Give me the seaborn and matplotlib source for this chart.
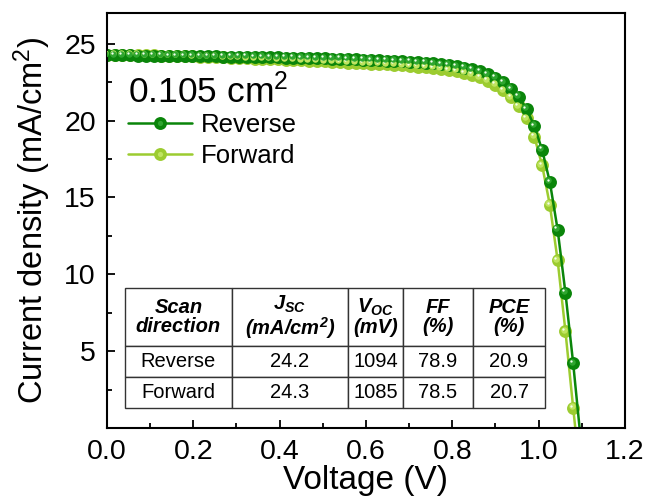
import pandas as pd
import matplotlib
matplotlib.use("Agg")
import matplotlib.pyplot as plt
import matplotlib.transforms as mtransforms
from matplotlib.lines import Line2D
from matplotlib.legend_handler import HandlerTuple
from matplotlib.ticker import MultipleLocator, FixedLocator
import seaborn as sns

# ---- J-V sweep data ----
voltage = [0.000, 0.018, 0.036, 0.054, 0.072, 0.090, 0.108, 0.126, 0.144, 0.162,
           0.180, 0.198, 0.216, 0.234, 0.252, 0.270, 0.288, 0.306, 0.324, 0.342,
           0.360, 0.378, 0.396, 0.414, 0.432, 0.450, 0.468, 0.486, 0.504, 0.522,
           0.540, 0.558, 0.576, 0.594, 0.612, 0.630, 0.648, 0.666, 0.684, 0.702,
           0.720, 0.738, 0.756, 0.774, 0.792, 0.810, 0.828, 0.846, 0.864, 0.882,
           0.900, 0.918, 0.936, 0.954, 0.972, 0.990, 1.008, 1.026, 1.044, 1.062,
           1.080, 1.098]

j_reverse = [24.25, 24.25, 24.24, 24.24, 24.23, 24.23, 24.22, 24.22, 24.21, 24.21,
             24.20, 24.20, 24.19, 24.18, 24.18, 24.17, 24.16, 24.15, 24.15, 24.14,
             24.13, 24.12, 24.11, 24.10, 24.09, 24.08, 24.07, 24.06, 24.05, 24.03,
             24.02, 24.00, 23.99, 23.97, 23.95, 23.93, 23.91, 23.88, 23.86, 23.83,
             23.80, 23.76, 23.72, 23.67, 23.61, 23.54, 23.45, 23.34, 23.20, 23.02,
             22.79, 22.48, 22.06, 21.55, 20.75, 19.65, 18.10, 16.00, 12.90, 8.80,
             4.20, -0.90]

j_forward = [24.30, 24.29, 24.28, 24.27, 24.26, 24.25, 24.24, 24.23, 24.22, 24.21,
             24.20, 24.19, 24.17, 24.15, 24.13, 24.11, 24.09, 24.07, 24.06, 24.04,
             24.02, 24.00, 23.98, 23.96, 23.94, 23.92, 23.90, 23.87, 23.85, 23.83,
             23.81, 23.78, 23.76, 23.73, 23.71, 23.68, 23.66, 23.63, 23.60, 23.56,
             23.52, 23.48, 23.43, 23.37, 23.30, 23.22, 23.10, 22.98, 22.82, 22.60,
             22.33, 21.98, 21.52, 20.92, 20.15, 18.95, 17.10, 14.50, 10.90, 6.30,
             1.30, -3.50]

# ---- photovoltaic parameters ----
directions = ["Reverse", "Forward"]
jsc = ["24.2", "24.3"]
voc = ["1094", "1085"]
ff = ["78.9", "78.5"]
pce = ["20.9", "20.7"]
col_headers = ["Scan\ndirection", "$J_{SC}$\n(mA/cm$^{2}$)", "$V_{OC}$\n(mV)",
               "FF\n(%)", "PCE\n(%)"]

x_ticks = [0.0, 0.2, 0.4, 0.6, 0.8, 1.0, 1.2]
y_ticks = [5, 10, 15, 20, 25]

colors = {"Reverse": "#0a850a", "Forward": "#9ccc30"}
highlight = {"Reverse": "#2fa62f", "Forward": "#bfe460"}

df = pd.concat([
    pd.DataFrame({"V": voltage, "J": j_reverse, "scan": "Reverse"}),
    pd.DataFrame({"V": voltage, "J": j_forward, "scan": "Forward"}),
], ignore_index=True)

sns.set_theme(style="ticks")
plt.rcParams["font.family"] = ["Liberation Sans", "DejaVu Sans"]
plt.rcParams["text.color"] = "black"
plt.rcParams["axes.labelcolor"] = "black"
plt.rcParams["mathtext.fontset"] = "custom"
plt.rcParams["mathtext.it"] = "Liberation Sans:bold:italic"
plt.rcParams["mathtext.rm"] = "Liberation Sans:bold:italic"
plt.rcParams["mathtext.bf"] = "Liberation Sans:bold:italic"
plt.rcParams["mathtext.sf"] = "Liberation Sans"

fig = plt.figure(figsize=(6.48, 5.01), dpi=100)
ax = fig.add_axes([0.165, 0.1457, 0.7995, 0.8283])

ms = 9.3
sns.lineplot(data=df, x="V", y="J", hue="scan", hue_order=["Forward", "Reverse"],
             palette=colors, marker="o", markersize=ms, markeredgewidth=0,
             linewidth=1.8, legend=False, ax=ax, sort=True, estimator=None)

# glossy highlight on each bead
hl_off = mtransforms.offset_copy(ax.transData, fig=fig, x=-1.2, y=1.2, units="points")
sp_off = mtransforms.offset_copy(ax.transData, fig=fig, x=-1.7, y=1.7, units="points")
for name, jj in [("Forward", j_forward), ("Reverse", j_reverse)]:
    ax.plot(voltage, jj, ls="none", marker="o", ms=ms * 0.5, mew=0,
            color=highlight[name], transform=hl_off, zorder=3)
    ax.plot(voltage, jj, ls="none", marker="o", ms=ms * 0.18, mew=0,
            color="#f4fff0", transform=sp_off, zorder=3)

ax.set_xlim(0, 1.2)
ax.set_ylim(0, 27)
ax.xaxis.set_major_locator(FixedLocator(x_ticks))
ax.xaxis.set_minor_locator(MultipleLocator(0.1))
ax.set_xticklabels([f"{v:.1f}" for v in x_ticks])
ax.yaxis.set_major_locator(FixedLocator(y_ticks))
ax.yaxis.set_minor_locator(MultipleLocator(2.5))
ax.tick_params(which="both", direction="in", top=False, right=False,
               labelsize=20.5, colors="black", labelcolor="black", width=1.3)
ax.tick_params(which="major", length=6, pad=8)
ax.tick_params(which="minor", length=3.5)
for s in ax.spines.values():
    s.set_linewidth(1.5)
    s.set_color("black")

ax.set_xlabel("Voltage (V)", fontsize=24, labelpad=0)
ax.set_ylabel(r"Current density (mA/cm$^{\mathsf{2}}$)", fontsize=23.5, labelpad=8)

ax.text(0.04, 0.783, r"0.105 cm$^{\mathsf{2}}$", transform=ax.transAxes,
        fontsize=25.5, ha="left", va="baseline")

handles = []
for name in directions:
    base = Line2D([], [], color=colors[name], lw=1.8, marker="o", ms=ms, mew=0)
    shine = Line2D([], [], ls="none", marker="o", ms=ms * 0.4, mew=0,
                   color=highlight[name])
    handles.append((base, shine))
ax.legend(handles, directions, handler_map={tuple: HandlerTuple(ndivide=1)},
          loc="upper left", bbox_to_anchor=(0.04, 0.76), frameon=False,
          fontsize=18.5, handlelength=2.5, handletextpad=0.35, labelspacing=0.3,
          borderpad=0, borderaxespad=0)

# parameter table
cell_text = [[directions[i], jsc[i], voc[i], ff[i], pce[i]] for i in range(2)]
widths = [107, 116, 55, 70, 72]
tot = sum(widths)
tbl = ax.table(cellText=cell_text, colLabels=col_headers, cellLoc="center",
               colWidths=[w / tot for w in widths],
               bbox=[0.0347, 0.048, 0.811, 0.289], zorder=5)
tbl.auto_set_font_size(False)
for (r, c), cell in tbl.get_celld().items():
    cell.set_edgecolor("#333333")
    cell.set_linewidth(1.0)
    cell.set_facecolor("white")
    txt = cell.get_text()
    txt.set_fontsize(14.5)
    txt.set_color("black")
    if r == 0:
        cell.set_height(0.0966 * 1.87)
        txt.set_fontweight("bold")
        txt.set_fontstyle("italic")
        txt.set_linespacing(1.0)
    else:
        cell.set_height(0.0966)

fig.savefig("out.png", dpi=100)
